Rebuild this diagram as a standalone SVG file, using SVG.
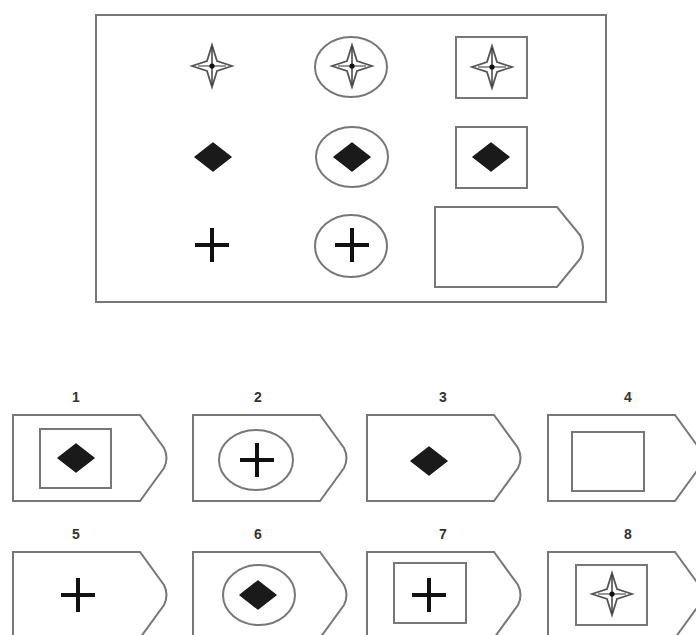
<svg xmlns="http://www.w3.org/2000/svg" xmlns:xlink="http://www.w3.org/1999/xlink" width="696" height="635" viewBox="0 0 696 635">
<style>
.ln{fill:none;stroke:#777;stroke-width:2}
.pent{fill:#fff;stroke:#777;stroke-width:2;stroke-linejoin:miter}
.dia{fill:#1a1a1a;stroke:#1a1a1a;stroke-width:1.5;stroke-linejoin:round}
.plus{stroke:#111;stroke-width:4;fill:none}
.lbl{font-family:"Liberation Sans",Arial,sans-serif;font-size:14px;font-weight:bold;fill:#333;text-anchor:middle}
</style>
<defs>
<g id="star">
<path d="M0,-21 L5,-5 L20,0 L5,5 L0,21 L-5,5 L-20,0 L-5,-5 Z" fill="#fff" stroke="#555" stroke-width="1.8"/>
<line x1="0" y1="-19" x2="0" y2="19" stroke="#333" stroke-width="1.4"/>
<line x1="-14" y1="0" x2="14" y2="0" stroke="#555" stroke-width="1.2"/>
<circle r="2.6" fill="#111"/>
</g>
<path id="diamond" class="dia" d="M0,-14 L18,0 L0,14 L-18,0 Z"/>
<path id="plus" class="plus" d="M-17,0 H17 M0,-17 V17"/>
<path id="pshape" class="pent" d="M0,0 H127 L151,33 Q156,43 151,53 L127,86 H0 Z"/>
</defs>
<rect width="696" height="635" fill="#fff"/>
<g id="frame">
<rect x="96" y="15" width="510" height="287" class="ln"/>
</g>
<g id="r1c1"><use xlink:href="#star" x="212" y="66"/></g>
<g id="r1c2"><ellipse cx="351" cy="67" rx="36" ry="30" class="ln"/><use xlink:href="#star" x="352" y="66"/></g>
<g id="r1c3"><rect x="456" y="37" width="71" height="61" class="ln"/><use xlink:href="#star" x="492" y="67"/></g>
<g id="r2c1"><use xlink:href="#diamond" x="213" y="157"/></g>
<g id="r2c2"><ellipse cx="352" cy="157" rx="36" ry="30" class="ln"/><use xlink:href="#diamond" x="352" y="157"/></g>
<g id="r2c3"><rect x="456" y="127" width="71" height="61" class="ln"/><use xlink:href="#diamond" x="491" y="157"/></g>
<g id="r3c1"><use xlink:href="#plus" x="212" y="245"/></g>
<g id="r3c2"><ellipse cx="351" cy="246" rx="36" ry="31" class="ln"/><use xlink:href="#plus" x="352" y="245"/></g>
<g id="r3c3"><path class="pent" d="M435,207 H557 L580,235 Q586,247 580,259 L557,287 H435 Z"/></g>

<g id="opt1">
<text class="lbl" x="76" y="402">1</text>
<use xlink:href="#pshape" x="13" y="415"/>
<rect x="40" y="429" width="71" height="59" class="ln"/>
<use xlink:href="#diamond" x="76" y="458"/>
</g>
<g id="opt2">
<text class="lbl" x="258" y="402">2</text>
<use xlink:href="#pshape" x="193" y="415"/>
<ellipse cx="256" cy="460" rx="37" ry="30" class="ln"/>
<use xlink:href="#plus" x="257" y="460"/>
</g>
<g id="opt3">
<text class="lbl" x="443" y="402">3</text>
<use xlink:href="#pshape" x="367" y="415"/>
<use xlink:href="#diamond" x="429" y="461"/>
</g>
<g id="opt4">
<text class="lbl" x="628" y="402">4</text>
<use xlink:href="#pshape" x="548" y="415"/>
<rect x="572" y="432" width="72" height="59" class="ln"/>
</g>
<g id="opt5">
<text class="lbl" x="76" y="539">5</text>
<use xlink:href="#pshape" x="13" y="552"/>
<use xlink:href="#plus" x="78" y="595"/>
</g>
<g id="opt6">
<text class="lbl" x="258" y="539">6</text>
<use xlink:href="#pshape" x="193" y="552"/>
<ellipse cx="259" cy="595" rx="36" ry="30" class="ln"/>
<use xlink:href="#diamond" x="258" y="595"/>
</g>
<g id="opt7">
<text class="lbl" x="443" y="539">7</text>
<use xlink:href="#pshape" x="367" y="552"/>
<rect x="394" y="563" width="72" height="60" class="ln"/>
<use xlink:href="#plus" x="429" y="595"/>
</g>
<g id="opt8">
<text class="lbl" x="628" y="539">8</text>
<use xlink:href="#pshape" x="548" y="552"/>
<rect x="576" y="565" width="71" height="60" class="ln"/>
<use xlink:href="#star" x="612" y="594"/>
</g>
</svg>
